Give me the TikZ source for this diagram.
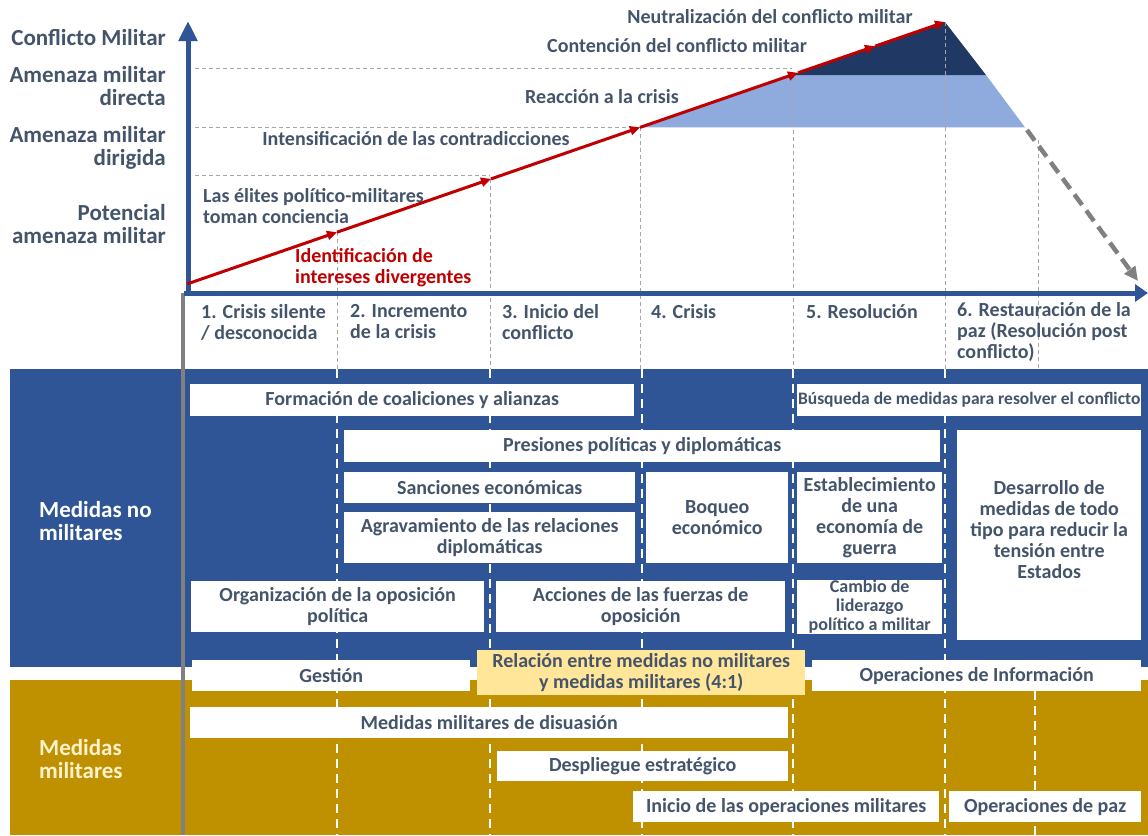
\documentclass[tikz,border=0pt]{standalone}
\usepackage{fontspec}
\setmainfont{Carlito}
\usetikzlibrary{arrows.meta}
\definecolor{txt}{HTML}{44546A}
\definecolor{dred}{HTML}{C00000}
\definecolor{mblue}{HTML}{2F5597}
\definecolor{gld}{HTML}{BF9000}
\definecolor{lyel}{HTML}{FFE699}
\definecolor{lblue}{HTML}{8FAADC}
\definecolor{navy}{HTML}{203864}
\definecolor{cream}{HTML}{FFF2CC}
\definecolor{gry}{HTML}{808080}
\definecolor{lgry}{HTML}{A6A6A6}
\tikzset{
  lbl/.style={font=\bfseries\fontsize{20}{21}\selectfont, text=txt, inner sep=0pt},
  big/.style={font=\bfseries\fontsize{23}{22.5}\selectfont, text=txt, inner sep=0pt, align=right, anchor=east},
  hdr/.style={lbl, align=left, anchor=west},
  wbox/.style={lbl, fill=white, anchor=north west, align=center},
  gdash/.style={lgry, line width=1pt, dash pattern=on 4pt off 3pt},
  wdash/.style={white, line width=2.5pt, dash pattern=on 9pt off 6pt},
  redln/.style={dred, line width=3pt, -{Triangle[length=10pt,width=9pt]}},
}
\newcommand{\bx}[6]{\node[wbox, minimum width=#4pt, minimum height=#5pt] (#1) at (#2,#3) {#6};}
\begin{document}
\begin{tikzpicture}[x=1pt,y=-1pt]
\useasboundingbox (0,0) rectangle (1148,835);
% coloured bands
\fill[mblue] (10,369) rectangle (181,667);
\fill[gld] (10,680) rectangle (181,835);
\fill[mblue] (185,369) rectangle (1148,667);
\fill[gld] (185,680) rectangle (1148,835);
% red line points
\coordinate (r0) at (187,284);
\coordinate (r1) at (337,232.2);
\coordinate (r2) at (491,178.9);
\coordinate (r3) at (640,127.4);
\coordinate (r4) at (798,72.8);
\coordinate (r5) at (875,46.2);
\coordinate (r6) at (945,22);
\coordinate (q1) at (791.7,75);
\coordinate (q2) at (986,75);
\coordinate (q3) at (1025,127.4);
% filled areas
\fill[lblue] (r3) -- (q1) -- (q2) -- (q3) -- cycle;
\fill[navy] (q1) -- (r6) -- (q2) -- cycle;
% horizontal dashed guide lines
\coordinate (h1) at (195,68);  \coordinate (h1e) at (792,68);
\coordinate (h2) at (195,127.4); \coordinate (h2e) at (640,127.4);
\coordinate (h3) at (195,175); \coordinate (h3e) at (490,175);
\draw[gdash] (h1) -- (h1e);
\draw[gdash] (h2) -- (h2e);
\draw[gdash] (h3) -- (h3e);
% vertical dashed guide lines (upper part and header)
\coordinate (v1) at (337,369); \coordinate (v2) at (490,369); \coordinate (v3) at (640,369);
\coordinate (v4) at (793,369); \coordinate (v5) at (945,369); \coordinate (v6) at (1038,369);
\coordinate (v6t) at (1038,140);
\draw[gdash] (r1) -- (v1);
\draw[gdash] (490,178.9) -- (v2);
\draw[gdash] (r3) -- (v3);
\draw[gdash] (793,74) -- (v4);
\draw[gdash] (r6) -- (v5);
\draw[gdash] (v6t) -- (v6);
% white dashed lines in the bands
\coordinate (w1) at (337,835); \coordinate (w2) at (490,835); \coordinate (w3) at (642,835);
\coordinate (w4) at (793,835); \coordinate (w5) at (945,835); \coordinate (w6) at (1035,835);
\coordinate (w6t) at (1035,691);
\draw[wdash] (v1) -- (w1);
\draw[wdash] (v2) -- (w2);
\draw[wdash] (642,369) -- (w3);
\draw[wdash] (v4) -- (w4);
\draw[wdash] (v5) -- (w5);
\draw[wdash] (w6t) -- (w6);
% boxes: non-military measures
\bx{formacion}{190}{384}{444}{32}{Formación de coaliciones y alianzas}
\node[wbox, minimum width=344pt, minimum height=32pt, font=\bfseries\fontsize{17.5}{19}\selectfont] (busqueda) at (797,384) {Búsqueda de medidas para resolver el conflicto};
\bx{presiones}{344}{430}{596}{32}{Presiones políticas y diplomáticas}
\bx{desarrollo}{957}{430}{184}{210}{Desarrollo de\\medidas de todo\\tipo para reducir la\\tensión entre\\Estados\\[-10pt]}
\bx{sanciones}{344}{472}{291}{31}{Sanciones económicas}
\bx{agrav}{344}{512}{291}{51}{Agravamiento de las relaciones\\diplomáticas}
\bx{boqueo}{646}{472}{142}{91}{Boqueo\\económico}
\bx{establ}{797}{472}{145}{91}{Establecimiento\\de una\\economía de\\guerra}
\bx{organiz}{191}{581}{293}{51}{Organización de la oposición\\política}
\bx{acciones}{496}{581}{289}{51}{Acciones de las fuerzas de\\oposición}
\node[wbox, minimum width=145pt, minimum height=51pt, font=\bfseries\fontsize{18}{19}\selectfont] (cambio) at (797,580) {Cambio de\\liderazgo\\político a militar};
\bx{gestion}{192}{660}{278}{31}{Gestión}
\node[wbox, fill=lyel, minimum width=328pt, minimum height=45pt] (relacion) at (477,650) {Relación entre medidas no militares\\y medidas militares (4:1)};
\bx{opinfo}{812}{660}{329}{31}{Operaciones de Información}
% boxes: military measures
\bx{disuasion}{190}{707}{598}{31}{Medidas militares de disuasión}
\bx{despliegue}{497}{751}{291}{30}{Despliegue estratégico}
\bx{inicio}{633}{791}{306}{31}{Inicio de las operaciones militares}
\bx{opaz}{949}{791}{192}{31}{Operaciones de paz}
% axes
\coordinate (yb) at (188,296); \coordinate (yt) at (188,21);
\coordinate (xl) at (184,293); \coordinate (xr) at (1148,293);
\coordinate (gt) at (183,293); \coordinate (gb) at (183,835);
\draw[gry, line width=4pt] (gt) -- (gb);
\draw[mblue, line width=5pt, -{Triangle[length=20pt,width=18pt]}] (yb) -- (yt);
\draw[mblue, line width=5pt, -{Triangle[length=13pt,width=17pt]}] (xl) -- (xr);
% red escalation line
\draw[redln] (r0) -- (r1);
\draw[redln] (r1) -- (r2);
\draw[redln] (r2) -- (r3);
\draw[redln] (r3) -- (r4);
\draw[redln] (r4) -- (r5);
\draw[redln] (r5) -- (r6);
% grey dashed de-escalation arrow
\coordinate (g1) at (1027,130); \coordinate (g2) at (1138,281);
\draw[gry, line width=4.5pt, dash pattern=on 13pt off 7pt, -{Triangle[length=14pt,width=13pt]}] (g1) -- (g2);
% axis level labels
\node[big] (l1) at (166,38) {Conflicto Militar};
\node[big] (l2) at (166,86) {Amenaza militar\\directa};
\node[big] (l3) at (166,148) {Amenaza militar\\dirigida};
\node[big] (l4) at (166,224) {Potencial\\amenaza militar};
% curve labels
\node[lbl] (neu) at (770,17) {Neutralización del conflicto militar};
\node[lbl] (con) at (677,46) {Contención del conflicto militar};
\node[lbl] (rea) at (602,97) {Reacción a la crisis};
\node[lbl] (int) at (416,139) {Intensificación de las contradicciones};
\node[lbl, align=left, anchor=west] (eli) at (203,206) {Las élites político-militares\\toman conciencia};
\node[lbl, text=dred, align=left, anchor=west] (ide) at (295,268) {Identificación de\\intereses divergentes};
% phase headers
\node[hdr] (p1) at (201,322) {1. Crisis silente\\/ desconocida};
\node[hdr] (p2) at (350,322) {2. Incremento\\de la crisis};
\node[hdr] (p3) at (502,322) {3. Inicio del\\conflicto};
\node[hdr] (p4) at (651,312) {4. Crisis};
\node[hdr] (p5) at (806,312) {5. Resolución};
\node[hdr] (p6) at (957,332) {6. Restauración de la\\paz (Resolución post\\conflicto)};
% panel labels
\node[big, text=white, align=left, anchor=west] (nm) at (39,521) {Medidas no\\militares};
\node[big, text=cream, align=left, anchor=west] (mm) at (39,759) {Medidas\\militares};
\end{tikzpicture}
\end{document}
